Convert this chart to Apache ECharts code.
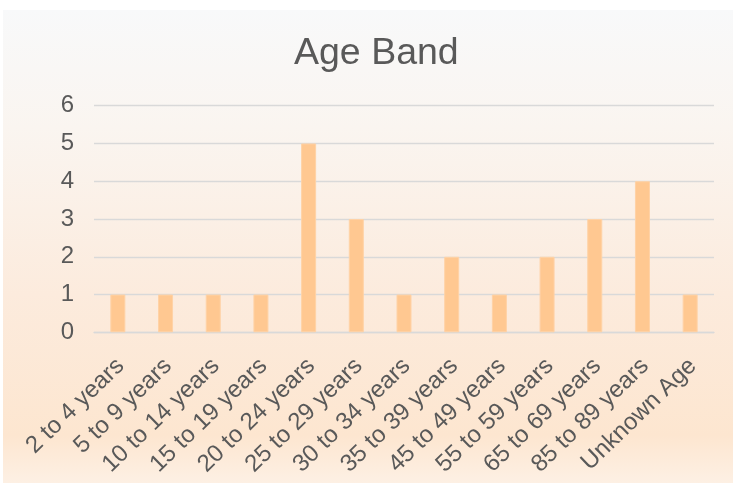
<!DOCTYPE html>
<html>
<head>
<meta charset="utf-8">
<script src="https://cdn.jsdelivr.net/npm/echarts@6/dist/echarts.min.js"></script>
<style>
html,body{margin:0;padding:0;background:#ffffff;}
#chart{width:733px;height:487px;}
</style>
</head>
<body>
<div id="chart"></div>
<script>
const titleText = "Age Band";
const categories = ["2 to 4 years","5 to 9 years","10 to 14 years","15 to 19 years","20 to 24 years","25 to 29 years","30 to 34 years","35 to 39 years","45 to 49 years","55 to 59 years","65 to 69 years","85 to 89 years","Unknown Age"];
const counts = [1,1,1,1,5,3,1,2,1,2,3,4,1];
const yTicks = [0,1,2,3,4,5,6];

const FONT = '"Liberation Sans", Arial, sans-serif';
const chart = echarts.init(document.getElementById('chart'), null, {renderer:'canvas'});
chart.setOption({
  animation:false,
  backgroundColor:'#ffffff',
  graphic:[{
    type:'rect', z:-10, silent:true,
    shape:{x:3,y:10,width:730,height:473},
    style:{fill:new echarts.graphic.LinearGradient(0,0,0,1,[
      {offset:0,color:'#F8F9FA'},
      {offset:0.25,color:'#FAF5F0'},
      {offset:0.6,color:'#FCEBDD'},
      {offset:0.9,color:'#FDE6D0'},
      {offset:1,color:'#FDF0E4'}
    ])}
  }],
  title:{
    text:titleText,
    left:289, top:30,
    textStyle:{fontFamily:FONT,fontSize:37.5,fontWeight:'normal',color:'#595959'}
  },
  grid:{left:94,right:19,top:105.7,bottom:154.7,containLabel:false},
  xAxis:{
    type:'category',
    data:categories,
    axisLine:{show:true,lineStyle:{color:'#D9D9D9',width:1.3}},
    axisTick:{show:false},
    axisLabel:{
      interval:0, rotate:44, margin:16, align:'right', verticalAlign:'top',
      padding:[0,8,0,0],
      fontFamily:FONT,fontSize:24,color:'#595959'
    }
  },
  yAxis:{
    type:'value', min:yTicks[0], max:yTicks[yTicks.length-1], interval:1,
    axisLine:{show:false}, axisTick:{show:false},
    splitLine:{lineStyle:{color:'#D9D9D9',width:1.3}},
    axisLabel:{margin:20,fontFamily:FONT,fontSize:24,color:'#595959'}
  },
  series:[{
    type:'bar',
    data:counts,
    barWidth:15,
    itemStyle:{color:'#FFC891',borderColor:'#FFD2A6',borderWidth:1}
  }]
});
</script>
</body>
</html>
